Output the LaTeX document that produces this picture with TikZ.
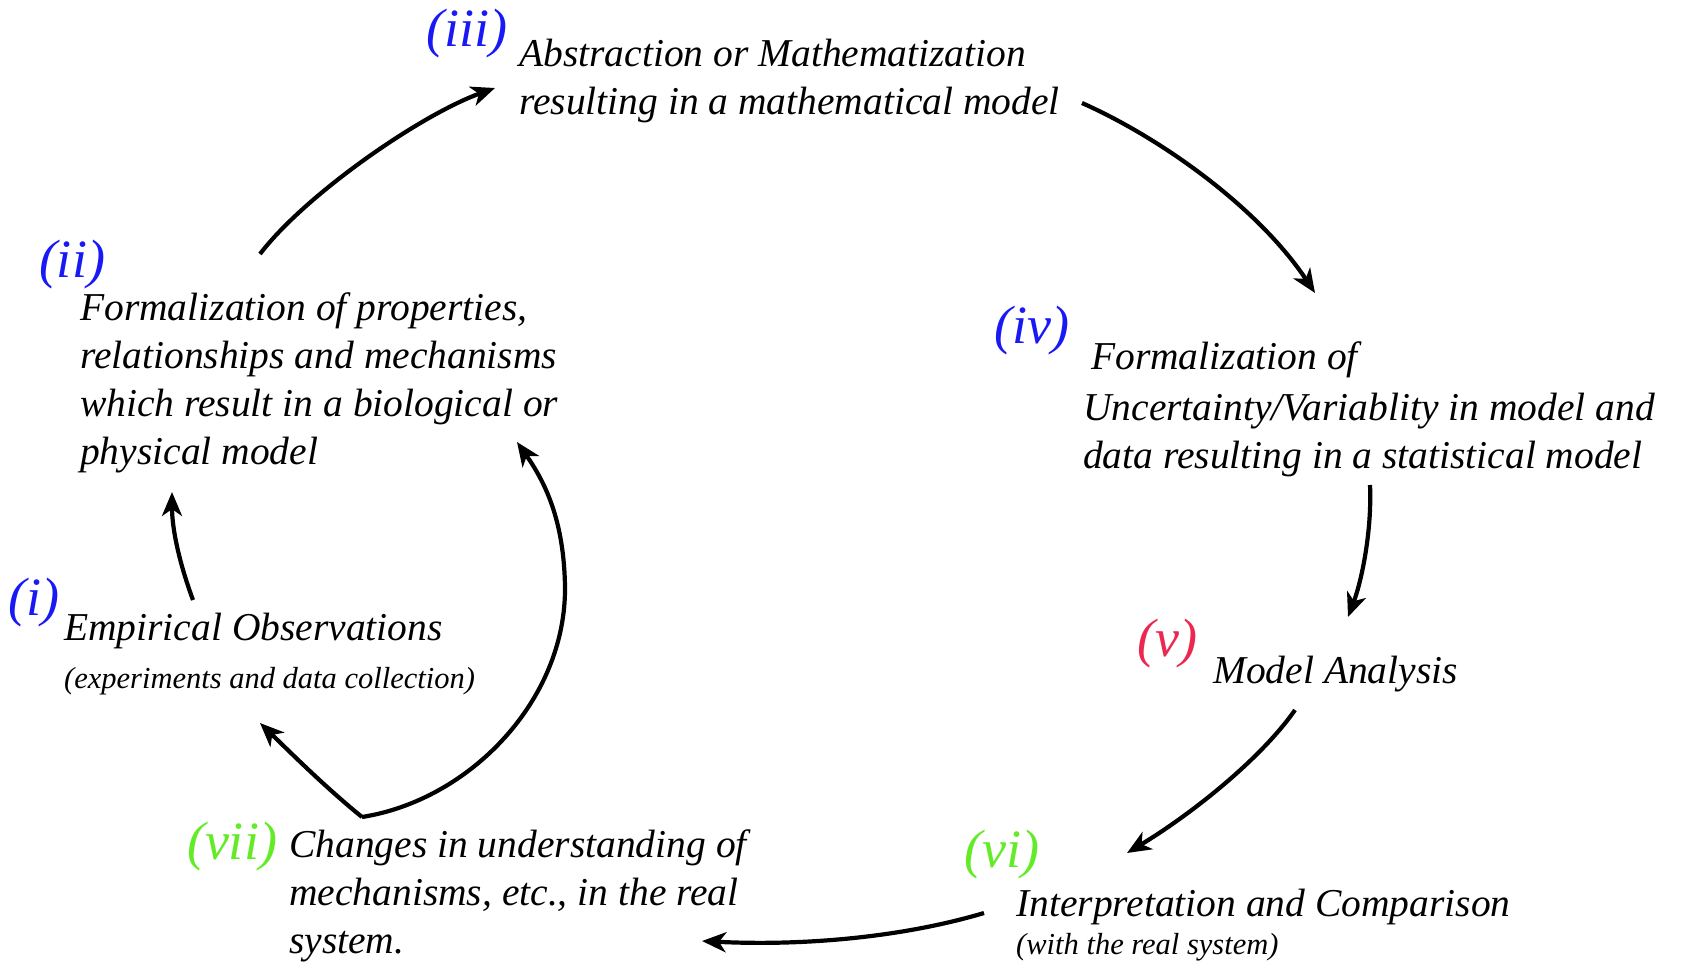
\documentclass[tikz,border=0pt]{standalone}
\usepackage{fontspec}
\setmainfont{Liberation Serif}
\usetikzlibrary{arrows.meta}
\definecolor{labblue}{RGB}{25,25,245}
\definecolor{labred}{RGB}{235,40,80}
\definecolor{labgreen}{RGB}{100,235,40}
\tikzset{
  txt/.style={anchor=base west,inner sep=0pt,align=left,font=\fontsize{39.5}{48}\selectfont\itshape},
  small/.style={anchor=base west,inner sep=0pt,align=left,font=\fontsize{30.5}{34}\selectfont\itshape},
  lab/.style={anchor=center,inner sep=0pt,font=\fontsize{54}{58}\selectfont\itshape},
  flow/.style={line width=4.2pt,-{Stealth[length=24pt,width=20pt,inset=7pt]}},
}
\begin{document}
\begin{tikzpicture}[x=1pt,y=-1pt]
\useasboundingbox (0,0) rectangle (1681,972);
% labels
\node[lab,text=labblue] (l3) at (467,34) {(iii)};
\node[lab,text=labblue] (l2) at (72,265) {(ii)};
\node[lab,text=labblue] (l4) at (1032,331) {(iv)};
\node[lab,text=labblue] (l1) at (34,603) {(i)};
\node[lab,text=labred] (l5) at (1167,644) {(v)};
\node[lab,text=labgreen] (l6) at (1002,855) {(vi)};
\node[lab,text=labgreen] (l7) at (232,847) {(vii)};
% texts (multi-line nodes: base = last line)
\node[txt] (t3) at (519,114) {Abstraction or Mathematization\\resulting in a mathematical model};
\node[txt] (t2) at (80,464) {Formalization of properties,\\relationships and mechanisms\\which result in a biological or\\physical model};
\node[txt] (t4a) at (1091,369) {Formalization of};
\node[txt] (t4) at (1083,468) {Uncertainty/Variablity in model and\\data resulting in a statistical model};
\node[txt] (t1) at (64,640) {Empirical Observations};
\node[small] (t1s) at (64,688) {(experiments and data collection)};
\node[txt] (t5) at (1213,683) {Model Analysis};
\node[txt] (t6) at (1016,916) {Interpretation and Comparison};
\node[small] (t6s) at (1016,954) {(with the real system)};
\node[txt] (t7) at (289,953) {Changes in understanding of\\mechanisms, etc., in the real\\system.};
% connector end points
\coordinate (a1s) at (193,600); \coordinate (a1e) at (172,492);
\coordinate (a2s) at (260,254); \coordinate (a2e) at (495,88);
\coordinate (a3s) at (1082,103); \coordinate (a3e) at (1315,293);
\coordinate (a4s) at (1370,485); \coordinate (a4e) at (1348,617);
\coordinate (a5s) at (1295,710); \coordinate (a5e) at (1127,853);
\coordinate (a6s) at (984,913); \coordinate (a6e) at (702,941);
\coordinate (jn) at (362,817);
\coordinate (a7e) at (260,723);
\coordinate (a8m) at (565,587);
\coordinate (a8e) at (517,442);
% connectors
\draw[flow] (a1s) .. controls (180,565) and (172,530) .. (a1e);
\draw[flow] (a2s) .. controls (305,195) and (420,115) .. (a2e);
\draw[flow] (a3s) .. controls (1165,140) and (1260,210) .. (a3e);
\draw[flow] (a4s) .. controls (1372,530) and (1362,580) .. (a4e);
\draw[flow] (a5s) .. controls (1260,760) and (1190,815) .. (a5e);
\draw[flow] (a6s) .. controls (900,938) and (800,946) .. (a6e);
\draw[flow] (jn) .. controls (325,787) and (290,752) .. (a7e);
\draw[flow] (jn) .. controls (470,800) and (566,700) .. (a8m) .. controls (564,520) and (545,482) .. (a8e);
\end{tikzpicture}
\end{document}
